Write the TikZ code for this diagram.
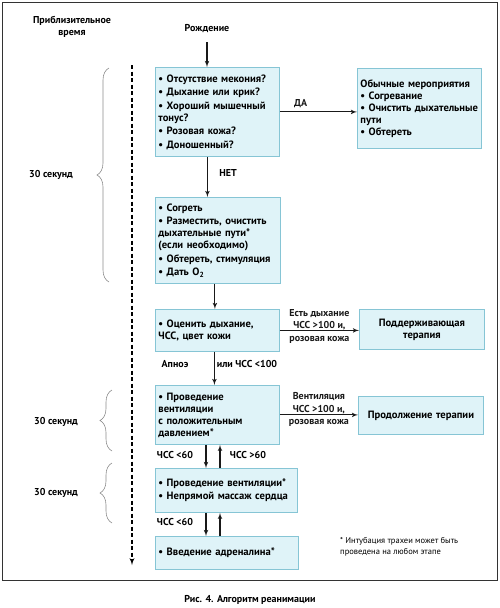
\documentclass[tikz,border=0pt]{standalone}
\usepackage{fontspec}
\setmainfont{PT Sans}
\usetikzlibrary{arrows,positioning,calc,decorations.pathreplacing}
\definecolor{boxfill}{HTML}{DFF3F8}
\definecolor{boxline}{HTML}{86C5D5}
\tikzstyle{block} = [rectangle, anchor=north west, draw=boxline, fill=boxfill, line width=0.8pt, inner xsep=3pt, align=left, font=\bfseries\fontsize{10.6}{12}\selectfont]
\tikzstyle{lbl} = [font=\bfseries\fontsize{10}{12.5}\selectfont, align=center, inner sep=1pt]
\tikzstyle{line} = [draw, line width=1.1pt, color=black!90, -latex']
\tikzstyle{timebrace} = [draw=black!45, line width=0.6pt, decorate, decoration={brace, amplitude=12pt}]

\begin{document}
\begin{tikzpicture}[x=1pt,y=-1pt]
  \useasboundingbox (0,0) rectangle (500,608);
  \draw [black!80, line width=0.9pt] (2,2) rectangle (497,580);

  \node (time) [lbl] at (72,27) {Приблизительное\\время};
  \node (birth) [lbl] at (207,29) {Рождение};

  \node (check) [block, text width=118pt, minimum height=89pt] at (155,67) {• Отсутствие мекония?\\[1.5pt] • Дыхание или крик?\\[1.5pt] • Хороший мышечный\\тонус?\\[1.5pt] • Розовая кожа?\\[1.5pt] • Доношенный?};
  \draw [line] ([yshift=-8pt]birth.south) -- (birth.south |- check.north);
  \node (usual) [block, text width=118pt, minimum height=80pt] at (357,68) {Обычные мероприятия\\• Согревание\\• Очистить дыхательные\\пути\\• Обтереть};
  \path [line] (check.east) -- node [lbl, above=3pt, pos=0.27] (yes) {ДА} (check.east -| usual.west);

  \node (warm) [block, text width=119pt, minimum height=86pt] at (155,197) {• Согреть\\[1.5pt] • Разместить, очистить\\дыхательные пути*\\(если необходимо)\\[1.5pt] • Обтереть, стимуляция\\[1.5pt] • Дать O\textsubscript{2}};
  \path [line] ([xshift=-10pt]check.south) -- ([xshift=-10pt]check.south |- warm.north);
  \node (no) [lbl] at (228,173) {НЕТ};

  \node (assess) [block, text width=118pt, minimum height=42pt] at (155,309) {• Оценить дыхание,\\ЧСС, цвет кожи};
  \path [line] ([xshift=-3pt]warm.south) -- ([xshift=-3pt]warm.south |- assess.north);
  \node (support) [block, align=center, text width=119pt, minimum height=40pt] at (359,309) {Поддерживающая\\терапия};
  \path [line] (assess.east) -- node [lbl, yshift=4pt] (ok1) {Есть дыхание\\ЧСС >100 и,\\розовая кожа} (assess.east -| support.west);

  \node (vent) [block, text width=118pt, minimum height=59pt] at (155,385) {• Проведение\\вентиляции\\с положительным\\давлением*};
  \path [line] ([xshift=-3pt]assess.south) -- ([xshift=-3pt]assess.south |- vent.north);
  \node (apnea) [lbl] at (175,364) {Апноэ};
  \node (low100) [lbl] at (247,364) {или ЧСС <100};
  \node (cont) [block, align=center, text width=119pt, minimum height=38pt] at (358,396) {Продолжение терапии};
  \path [line] (vent.east) -- node [lbl, yshift=5pt] (ok2) {Вентиляция\\ЧСС >100 и,\\розовая кожа} (vent.east -| cont.west);

  \node (massage) [block, text width=136pt, minimum height=44pt] at (155,468) {• Проведение вентиляции*\\[1pt] • Непрямой массаж сердца};
  \path [line] ([xshift=51pt]vent.south west) -- ([xshift=51pt]vent.south west |- massage.north);
  \path [line] ([xshift=65pt]massage.north west) -- ([xshift=65pt]massage.north west |- vent.south);
  \node (low60a) [lbl] at (175,455) {ЧСС <60};
  \node (high60) [lbl] at (248,455) {ЧСС >60};

  \node (adren) [block, text width=137pt, minimum height=33pt] at (155,536) {• Введение адреналина*};
  \path [line] ([xshift=51pt]massage.south west) -- ([xshift=51pt]massage.south west |- adren.north);
  \path [line] ([xshift=65pt]adren.north west) -- ([xshift=65pt]adren.north west |- massage.south);
  \node (low60b) [lbl] at (175,522) {ЧСС <60};

  \coordinate (tl) at (132,65);
  \coordinate (tlend) at (132,565);
  \draw [line width=1.3pt, dash pattern=on 4pt off 2.5pt, -latex'] (tl) -- (tlend);

  \draw [timebrace] (109,282) -- (109,68);
  \node (sec1) [lbl] at (51,175) {30 секунд};
  \draw [timebrace] (112,451) -- (112,390);
  \node (sec2) [lbl] at (56,422) {30 секунд};
  \draw [timebrace] (112,523) -- (112,463);
  \node (sec3) [lbl] at (56,493) {30 секунд};

  \node (note) [anchor=north west, align=left, font=\fontsize{8.5}{11}\selectfont, inner sep=0pt] at (340,537) {* Интубация трахеи может быть\\проведена на любом этапе};
  \node (caption) [lbl] at (250,600) {Рис. 4. Алгоритм реанимации};
\end{tikzpicture}
\end{document}
